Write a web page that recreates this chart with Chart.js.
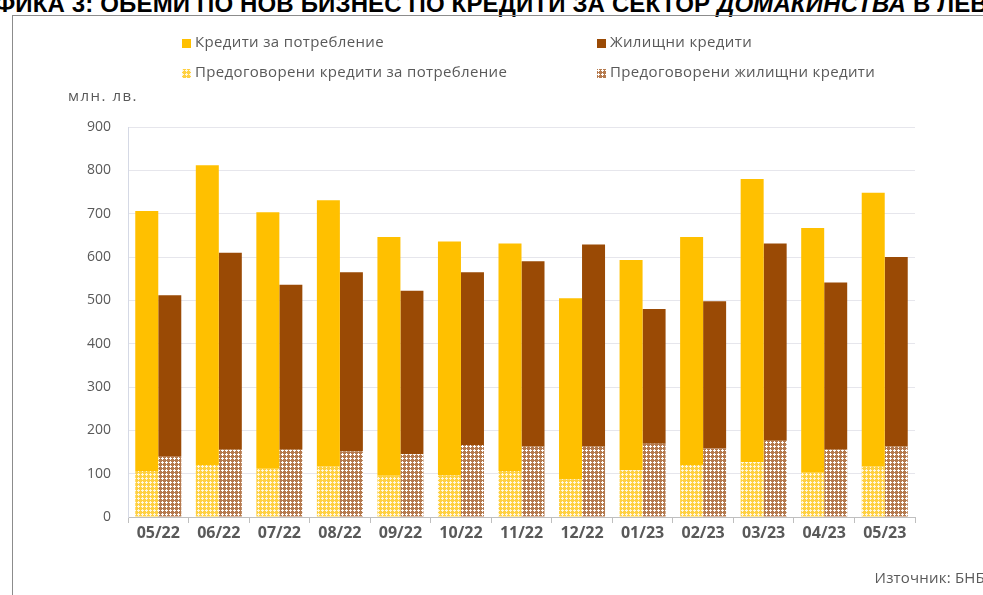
<!DOCTYPE html>
<html>
<head>
<meta charset="utf-8">
<script src="https://cdn.jsdelivr.net/npm/chart.js@4.4.0/dist/chart.umd.min.js"></script>
<style>
  html, body { margin: 0; padding: 0; background: #fff; overflow: hidden; }
  #wrap { position: relative; width: 983px; height: 595px; overflow: hidden; }
  #frame { position: absolute; left: 12px; top: 15px; width: 1000px; height: 600px;
           border-left: 1.5px solid #8c8c8c; border-top: 1.5px solid #8c8c8c; }
  #title { position: absolute; left: -50px; top: -10px; white-space: nowrap; line-height: 28px;
           font-family: "Liberation Sans", Arial, sans-serif; font-weight: bold; font-size: 24px;
           color: #000; letter-spacing: 0.15px; }
  canvas { position: absolute; left: 0; top: 0; }
</style>
</head>
<body>
<div id="wrap">
  <div id="title">ГРАФИКА 3: ОБЕМИ ПО НОВ БИЗНЕС ПО КРЕДИТИ ЗА СЕКТОР <i>ДОМАКИНСТВА</i> В ЛЕВА</div>
  <div id="frame"></div>
  <canvas id="chart" width="983" height="595"></canvas>
</div>
<script>
// months
var labels = ['05/22','06/22','07/22','08/22','09/22','10/22','11/22','12/22','01/23','02/23','03/23','04/23','05/23'];
// млн. лв.
var consumerNew   = [600, 692, 590, 615, 551, 540, 525, 418, 485, 526, 653, 565, 632];
var consumerReneg = [106, 120, 113, 116,  95,  96, 106,  87, 108, 120, 127, 102, 116];
var housingNew    = [371, 455, 381, 414, 377, 399, 428, 467, 311, 340, 455, 386, 438];
var housingReneg  = [141, 155, 155, 151, 145, 166, 162, 162, 169, 158, 176, 155, 162];
var yTicks = [0, 100, 200, 300, 400, 500, 600, 700, 800, 900];

var YELLOW = '#FFC000';
var BROWN = '#9A4A05';
var GREY_TEXT = '#595959';

function makePattern(dark, light){
	var c = document.createElement('canvas');
	c.width = 4; c.height = 4;
	var g = c.getContext('2d');
	g.fillStyle = dark;
	g.fillRect(0,0,4,4);
	g.fillStyle = light;
	g.fillRect(2,1,1,3);
	g.fillRect(1,2,3,1);
	return g.createPattern(c,'repeat');
}

var ctx = document.getElementById('chart').getContext('2d');
var yellowPattern = makePattern('#FFD040', '#FFF7E0');
var brownPattern = makePattern('#B57A4E', '#FFFFFF');

var legendItems = [
	{text:'Кредити за потребление', fill:YELLOW, x:182, y:43},
	{text:'Жилищни кредити', fill:BROWN, x:597, y:43},
	{text:'Предоговорени кредити за потребление', fill:yellowPattern, x:182, y:73},
	{text:'Предоговорени жилищни кредити', fill:brownPattern, x:597, y:73}
];

var extrasPlugin = {
	id:'extras',
	afterDraw:function(chart){
		var c = chart.ctx;
		c.save();
		c.font = '15px "Open Sans", sans-serif';
		c.letterSpacing = '0.35px';
		c.textBaseline = 'middle';
		legendItems.forEach(function(item){
			c.fillStyle = item.fill;
			c.fillRect(item.x, item.y - 4, 9, 9);
			c.fillStyle = GREY_TEXT;
			c.fillText(item.text, item.x + 13, item.y);
		});
		c.font = '15px "Open Sans", sans-serif';
		c.letterSpacing = '1.5px';
		c.fillText('млн. лв.', 68, 97);
		c.letterSpacing = '0.2px';
		c.textAlign = 'right';
		c.fillText('Източник: БНБ', 985, 579);
		c.restore();
	}
};

new Chart(ctx, {
	type:'bar',
	data:{
		labels:labels,
		datasets:[
			{label:'Предоговорени кредити за потребление', data:consumerReneg, backgroundColor:yellowPattern, stack:'c'},
			{label:'Кредити за потребление', data:consumerNew, backgroundColor:YELLOW, stack:'c'},
			{label:'Предоговорени жилищни кредити', data:housingReneg, backgroundColor:brownPattern, stack:'h'},
			{label:'Жилищни кредити', data:housingNew, backgroundColor:BROWN, stack:'h'}
		]
	},
	options:{
		responsive:false,
		animation:false,
		devicePixelRatio:1,
		categoryPercentage:0.76,
		barPercentage:1,
		layout:{padding:{left:0, top:127, right:68, bottom:0}},
		plugins:{legend:{display:false}, tooltip:{enabled:false}},
		scales:{
			x:{
				stacked:true,
				grid:{offset:true, drawOnChartArea:false, drawTicks:true, tickLength:6, color:'#BFBFBF'},
				border:{color:'#BFBFBF'},
				ticks:{color:GREY_TEXT, font:{family:'"Open Sans", sans-serif', size:16, weight:'bold'}, padding:1},
				afterFit:function(axis){ axis.height = 78; }
			},
			y:{
				stacked:true,
				min:0, max:900,
				afterBuildTicks:function(axis){ axis.ticks = yTicks.map(function(v){ return {value:v}; }); },
				grid:{color:'#E6E6EC', drawTicks:false},
				border:{color:'#D5D9E5'},
				ticks:{color:GREY_TEXT, font:{family:'"Open Sans", sans-serif', size:14}, padding:17},
				afterFit:function(axis){ axis.width = 128; }
			}
		}
	},
	plugins:[extrasPlugin]
});
</script>
</body>
</html>
